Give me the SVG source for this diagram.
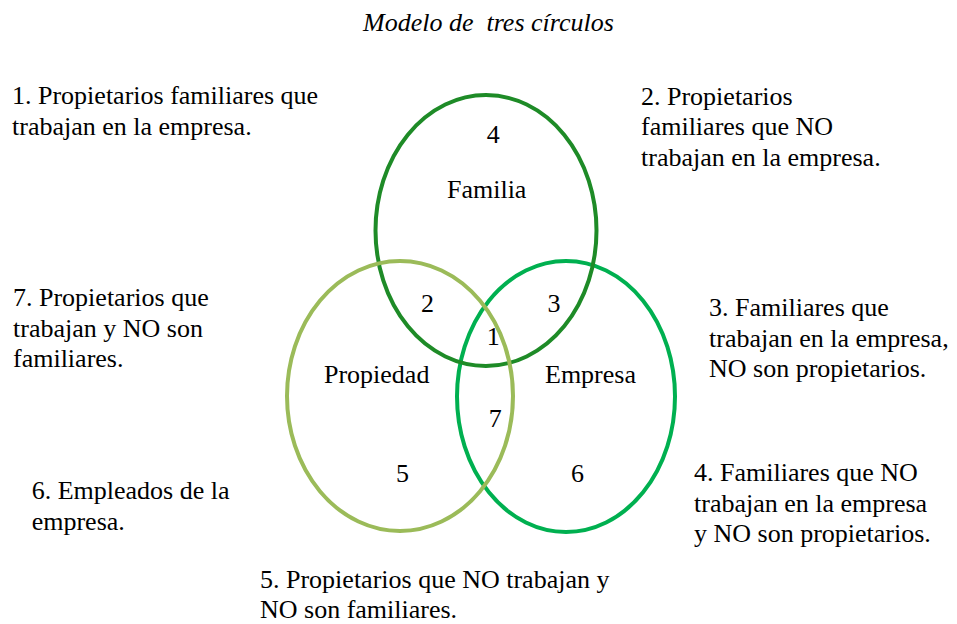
<svg xmlns="http://www.w3.org/2000/svg" width="957" height="624" viewBox="0 0 957 624">
<rect width="957" height="624" fill="#fff"/>
<g id="circles" fill="none" stroke-width="4">
<g id="empresa-circle"><ellipse cx="566" cy="396.5" rx="109" ry="135.5" stroke="#00B050"/></g>
<g id="familia-circle"><ellipse cx="486" cy="230.5" rx="110.5" ry="135.5" stroke="#1E8B27"/></g>
<g id="propiedad-circle"><ellipse cx="400" cy="396" rx="113" ry="135" stroke="#9BBB59"/></g>
</g>
<g id="title"><text x="363" y="31" font-family="'Liberation Serif'" font-size="26" font-style="italic">Modelo de&#160; tres círculos</text></g>
<g id="labels">
<text x="493.3" y="143.3" font-family="'Liberation Serif'" font-size="26" text-anchor="middle">4</text>
<text x="486.7" y="198" font-family="'Liberation Serif'" font-size="26" text-anchor="middle">Familia</text>
<text x="427.5" y="311.7" font-family="'Liberation Serif'" font-size="26" text-anchor="middle">2</text>
<text x="554" y="311.7" font-family="'Liberation Serif'" font-size="26" text-anchor="middle">3</text>
<text x="493.3" y="345" font-family="'Liberation Serif'" font-size="26" text-anchor="middle">1</text>
<text x="376.7" y="382.7" font-family="'Liberation Serif'" font-size="26" text-anchor="middle">Propiedad</text>
<text x="590.5" y="382.7" font-family="'Liberation Serif'" font-size="26" text-anchor="middle">Empresa</text>
<text x="495.3" y="426.7" font-family="'Liberation Serif'" font-size="26" text-anchor="middle">7</text>
<text x="402.5" y="481.7" font-family="'Liberation Serif'" font-size="26" text-anchor="middle">5</text>
<text x="577.5" y="481.7" font-family="'Liberation Serif'" font-size="26" text-anchor="middle">6</text>
</g>
<g id="note1">
<text x="12" y="104" font-family="'Liberation Serif'" font-size="26">1. Propietarios familiares que</text>
<text x="12" y="135" font-family="'Liberation Serif'" font-size="26">trabajan en la empresa.</text>
</g>
<g id="note2">
<text x="641" y="104.5" font-family="'Liberation Serif'" font-size="26">2. Propietarios</text>
<text x="641" y="135" font-family="'Liberation Serif'" font-size="26">familiares que NO</text>
<text x="641" y="165.5" font-family="'Liberation Serif'" font-size="26">trabajan en la empresa.</text>
</g>
<g id="note7">
<text x="13" y="306" font-family="'Liberation Serif'" font-size="26">7. Propietarios que</text>
<text x="13" y="336.7" font-family="'Liberation Serif'" font-size="26">trabajan y NO son</text>
<text x="13" y="367" font-family="'Liberation Serif'" font-size="26">familiares.</text>
</g>
<g id="note3">
<text x="709" y="315.5" font-family="'Liberation Serif'" font-size="26">3. Familiares que</text>
<text x="709" y="346.5" font-family="'Liberation Serif'" font-size="26">trabajan en la empresa,</text>
<text x="709" y="377.3" font-family="'Liberation Serif'" font-size="26">NO son propietarios.</text>
</g>
<g id="note6">
<text x="31.7" y="499.3" font-family="'Liberation Serif'" font-size="26">6. Empleados de la</text>
<text x="31.7" y="530" font-family="'Liberation Serif'" font-size="26">empresa.</text>
</g>
<g id="note4">
<text x="694" y="481" font-family="'Liberation Serif'" font-size="26">4. Familiares que NO</text>
<text x="694" y="511.7" font-family="'Liberation Serif'" font-size="26">trabajan en la empresa</text>
<text x="694" y="542.3" font-family="'Liberation Serif'" font-size="26">y NO son propietarios.</text>
</g>
<g id="note5">
<text x="260" y="588.3" font-family="'Liberation Serif'" font-size="26">5. Propietarios que NO trabajan y</text>
<text x="260" y="618.3" font-family="'Liberation Serif'" font-size="26">NO son familiares.</text>
</g>
</svg>
